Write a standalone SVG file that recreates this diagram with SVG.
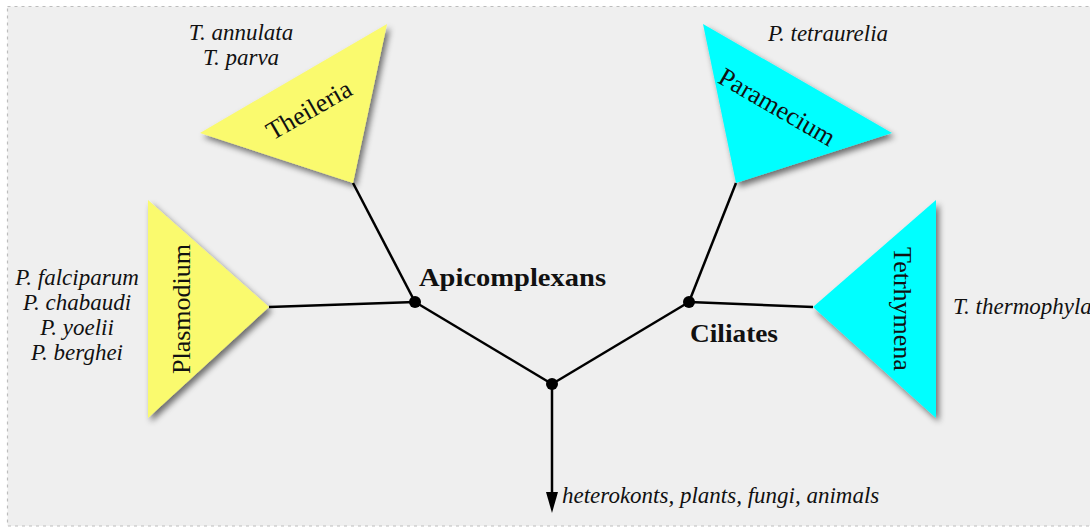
<svg xmlns="http://www.w3.org/2000/svg" width="1090" height="528" viewBox="0 0 1090 528">
  <style>
    .species { font-family: "Liberation Serif", "Times New Roman", serif; font-style: italic; font-size: 23px; fill: #111; text-anchor: middle; }
    .clade { font-family: "Liberation Serif", "Times New Roman", serif; font-size: 26px; fill: #111; text-anchor: middle; dominant-baseline: central; }
    .group { font-family: "Liberation Serif", "Times New Roman", serif; font-weight: bold; font-size: 25px; fill: #111; }
    .edge { stroke: #000; stroke-width: 2.5; fill: none; }
    .dot { fill: #000; }
    .apico { fill: #FAFA6E; filter: url(#shadow); }
    .cilia { fill: #00FFFF; filter: url(#shadow); }
  </style>
  <defs>
    <filter id="shadow" x="-20%" y="-20%" width="140%" height="140%">
      <feGaussianBlur in="SourceAlpha" stdDeviation="3"/>
      <feOffset dx="3" dy="4" result="blur"/>
      <feComponentTransfer><feFuncA type="linear" slope="0.55"/></feComponentTransfer>
      <feMerge><feMergeNode/><feMergeNode in="SourceGraphic"/></feMerge>
    </filter>
    <marker id="arrow" viewBox="0 0 12 20" refX="6" refY="20" markerWidth="12" markerHeight="20" markerUnits="userSpaceOnUse" orient="auto-start-reverse">
      <path d="M0,0 L12,0 L6,20 Z" fill="#000"/>
    </marker>
  </defs>

  <!-- canvas -->
  <rect x="0" y="0" width="1090" height="528" fill="#ffffff"/>
  <rect x="7.5" y="6.5" width="1100" height="519.5" fill="#EFEFEF" stroke="#BDBDBD" stroke-width="1.2" stroke-dasharray="3,4"/>

  <!-- connectors -->
  <g id="connectors">
    <line class="edge" x1="269" y1="307" x2="415" y2="302"/>
    <line class="edge" x1="353" y1="183" x2="415" y2="302"/>
    <line class="edge" x1="415" y1="302" x2="552" y2="384"/>
    <line class="edge" x1="552" y1="384" x2="689" y2="302"/>
    <line class="edge" x1="689" y1="302" x2="736" y2="183"/>
    <line class="edge" x1="689" y1="302" x2="813" y2="307"/>
    <line class="edge" x1="552" y1="384" x2="552" y2="493"/>
    <path d="M546,492 L558,492 L552,513 Z" fill="#000"/>
  </g>

  <!-- internal nodes -->
  <g id="node-apicomplexans">
    <circle class="dot" cx="415" cy="302" r="6"/>
    <text class="group" x="419" y="286" textLength="187" lengthAdjust="spacingAndGlyphs">Apicomplexans</text>
  </g>
  <g id="node-ciliates">
    <circle class="dot" cx="689" cy="302" r="6"/>
    <text class="group" x="690" y="342" textLength="88" lengthAdjust="spacingAndGlyphs">Ciliates</text>
  </g>
  <g id="node-root">
    <circle class="dot" cx="552" cy="384" r="6"/>
    <text class="species" x="562" y="503" style="text-anchor:start">heterokonts, plants, fungi, animals</text>
  </g>

  <!-- leaf clades -->
  <g id="node-theileria">
    <polygon class="apico" points="200,133 387,24 353,183"/>
    <text class="clade" transform="translate(309,110) rotate(-30)">Theileria</text>
    <text class="species" x="241" y="40">T. annulata</text>
    <text class="species" x="241" y="65">T. parva</text>
  </g>
  <g id="node-plasmodium">
    <polygon class="apico" points="148,200 269,307 148,418"/>
    <text class="clade" transform="translate(181,309) rotate(-90)">Plasmodium</text>
    <text class="species" x="77" y="285">P. falciparum</text>
    <text class="species" x="77" y="310">P. chabaudi</text>
    <text class="species" x="77" y="335">P. yoelii</text>
    <text class="species" x="77" y="360">P. berghei</text>
  </g>
  <g id="node-paramecium">
    <polygon class="cilia" points="703,24 892,133 736,183"/>
    <text class="clade" transform="translate(777,107) rotate(30)">Paramecium</text>
    <text class="species" x="828" y="41">P. tetraurelia</text>
  </g>
  <g id="node-tetrhymena">
    <polygon class="cilia" points="936,200 936,418 813,307"/>
    <text class="clade" transform="translate(902,309) rotate(90)">Tetrhymena</text>
    <text class="species" x="953" y="314" style="text-anchor:start">T. thermophyla</text>
  </g>
</svg>
